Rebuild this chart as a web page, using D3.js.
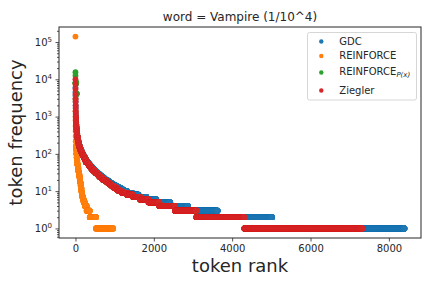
<!DOCTYPE html>
<html>
<head>
<meta charset="utf-8">
<script src="https://cdn.jsdelivr.net/npm/d3@7"></script>
<style>
  body { margin: 0; background: #fff; }
  text { font-family: "DejaVu Sans", sans-serif; fill: #262626; }
</style>
</head>
<body>
<div class="canvas"></div>
<script>

// data: rank-frequency runs, each level lasts up to lastRank (ranks start at 0)
const seriesNames = ['GDC', 'REINFORCE', 'REINFORCE_P(x)', 'Ziegler'];
const seriesColors = ['#1f77b4', '#ff7f0e', '#2ca02c', '#d62728'];

const gdcFreq = [6000, 4500, 3600, 3000, 2500, 2000, 1700, 1400, 1200, 1000, 900, 800, 700, 600, 530, 460, 400, 350, 300, 260, 230, 200, 170, 150, 130, 115, 100, 90, 80, 70, 60, 55, 50, 45, 40, 36, 33, 30, 28, 26, 24, 22, 20, 19, 18, 17, 16, 15, 14, 13, 12, 11, 10, 9, 8, 7, 6, 5, 4, 3, 2, 1];
const gdcLastRank = [0, 1, 2, 3, 4, 5, 6, 7, 8, 10, 12, 14, 17, 21, 25, 30, 36, 43, 52, 62, 72, 85, 102, 120, 143, 166, 193, 216, 244, 278, 321, 350, 383, 422, 466, 510, 548, 592, 624, 660, 702, 750, 806, 838, 872, 910, 950, 995, 1045, 1100, 1160, 1230, 1315, 1450, 1610, 1810, 2065, 2420, 2870, 3630, 5020, 8400];

const reinforceFreq = [140000, 3000, 1400, 1000, 800, 560, 405, 300, 218, 160, 130, 100, 80, 65, 52, 42, 34, 28, 24, 20, 17, 14, 12, 10, 9, 8, 7, 6, 5, 4, 3, 2, 1];
const reinforceLastRank = [0, 1, 2, 3, 4, 5, 6, 8, 10, 14, 22, 30, 38, 48, 62, 75, 88, 100, 110, 120, 132, 143, 152, 160, 166, 175, 190, 210, 240, 285, 365, 525, 960];

const reinforcePxFreq = [15500, 12500, 8000, 4100, 400, 350, 300, 260, 230, 200, 170, 150, 130, 115, 100, 90, 80, 70, 60, 55, 50, 45, 40, 36, 33, 30, 28, 26, 24, 22, 20, 19, 18, 17, 16, 15, 14, 13, 12, 11, 10, 9, 8, 7, 6, 5, 4, 3, 2, 1];
const reinforcePxLastRank = [0, 1, 20, 30, 37, 44, 52, 62, 72, 84, 100, 118, 140, 162, 188, 210, 236, 268, 308, 335, 368, 405, 445, 485, 520, 560, 590, 622, 660, 705, 755, 782, 812, 845, 880, 920, 960, 1005, 1055, 1110, 1185, 1320, 1470, 1650, 1865, 2140, 2540, 3085, 4310, 6800];

const zieglerFreq = [10000, 7500, 5500, 4000, 3000, 2500, 2000, 1700, 1400, 1200, 1000, 900, 800, 700, 600, 530, 460, 400, 350, 300, 260, 230, 200, 170, 150, 130, 115, 100, 90, 80, 70, 60, 55, 50, 45, 40, 36, 33, 30, 28, 26, 24, 22, 20, 19, 18, 17, 16, 15, 14, 13, 12, 11, 10, 9, 8, 7, 6, 5, 4, 3, 2, 1];
const zieglerLastRank = [0, 1, 2, 3, 4, 5, 6, 7, 8, 9, 11, 13, 15, 18, 22, 26, 31, 37, 44, 52, 62, 72, 84, 100, 118, 140, 162, 188, 210, 236, 268, 308, 335, 368, 405, 445, 485, 520, 560, 590, 622, 660, 705, 755, 782, 812, 845, 880, 920, 960, 1005, 1055, 1110, 1185, 1320, 1470, 1650, 1865, 2140, 2540, 3085, 4310, 7330];

const xTicks = [0, 2000, 4000, 6000, 8000];
const yTicks = [1, 10, 100, 1000, 10000, 100000];
const titleText = 'word = Vampire (1/10^4)';

// svg and dimensions
const width = 432, height = 288;
const margin = {top: 27, right: 11, bottom: 50, left: 59};
const graphWidth = width - margin.left - margin.right;
const graphHeight = height - margin.top - margin.bottom;

const svg = d3.select('.canvas')
  .append('svg')
  .attr('width', width)
  .attr('height', height);

const graph = svg.append('g')
  .attr('transform', `translate(${margin.left}, ${margin.top})`);

const x = d3.scaleLinear()
  .domain([-420, 8820])
  .range([0, graphWidth]);

const y = d3.scaleLog()
  .domain([Math.pow(10, -0.257), Math.pow(10, 5.403)])
  .range([graphHeight, 0]);

// expand the runs into one point per rank
const expand = (freqs, lastRanks) => {
  const pts = [];
  let start = 0;
  freqs.forEach((f, i) => {
    for (let r = start; r <= lastRanks[i]; r++) pts.push({rank: r, freq: f});
    start = lastRanks[i] + 1;
  });
  return pts;
};

const series = [
  expand(gdcFreq, gdcLastRank),
  expand(reinforceFreq, reinforceLastRank),
  expand(reinforcePxFreq, reinforcePxLastRank),
  expand(zieglerFreq, zieglerLastRank)
];

series.forEach((pts, i) => {
  graph.append('g')
    .selectAll('circle')
    .data(pts)
    .join('circle')
      .attr('cx', d => x(d.rank))
      .attr('cy', d => y(d.freq))
      .attr('r', 2.9)
      .attr('fill', seriesColors[i]);
});

// axes
const xAxisGroup = graph.append('g').attr('transform', `translate(0, ${graphHeight})`);
const yAxisGroup = graph.append('g');
const yMinorGroup = graph.append('g');

const xAxis = d3.axisBottom(x)
  .tickValues(xTicks)
  .tickSize(3.5)
  .tickPadding(3.5)
  .tickFormat(d3.format('d'));

const yAxis = d3.axisLeft(y)
  .tickValues(yTicks)
  .tickSize(3.5)
  .tickPadding(3.5)
  .tickFormat(() => '');

const minorTicks = [];
for (let e = -1; e <= 5; e++) {
  for (let m = 2; m <= 9; m++) {
    const v = m * Math.pow(10, e);
    if (v > y.domain()[0] && v < y.domain()[1]) minorTicks.push(v);
  }
}
const yMinor = d3.axisLeft(y)
  .tickValues(minorTicks)
  .tickSize(2)
  .tickFormat(() => '');

xAxisGroup.call(xAxis);
yAxisGroup.call(yAxis);
yMinorGroup.call(yMinor);

[xAxisGroup, yAxisGroup, yMinorGroup].forEach(g => {
  g.select('.domain').remove();
  g.selectAll('line').attr('stroke', '#262626').attr('stroke-width', 0.8);
  g.selectAll('text').attr('font-size', 10).attr('font-family', '"DejaVu Sans", sans-serif').attr('fill', '#262626');
});

// 10^n labels with superscripts
yAxisGroup.selectAll('.tick text')
  .each(function(d) {
    const t = d3.select(this);
    t.text('');
    t.append('tspan').text('10');
    t.append('tspan')
      .attr('font-size', 7)
      .attr('dy', '-0.55em')
      .text(Math.round(Math.log10(d)));
  });

// frame
graph.append('rect')
  .attr('width', graphWidth)
  .attr('height', graphHeight)
  .attr('fill', 'none')
  .attr('stroke', '#262626')
  .attr('stroke-width', 1);

// title and labels
svg.append('text')
  .attr('x', margin.left + graphWidth / 2)
  .attr('y', 21)
  .attr('text-anchor', 'middle')
  .attr('font-size', 12)
  .text(titleText);

svg.append('text')
  .attr('x', margin.left + graphWidth / 2)
  .attr('y', 272)
  .attr('text-anchor', 'middle')
  .attr('font-size', 18)
  .text('token rank');

svg.append('text')
  .attr('transform', `translate(22, ${margin.top + graphHeight / 2}) rotate(-90)`)
  .attr('text-anchor', 'middle')
  .attr('font-size', 18)
  .text('token frequency');

// legend
const legend = svg.append('g');
legend.append('rect')
  .attr('x', 307.5)
  .attr('y', 32.5)
  .attr('width', 109)
  .attr('height', 67.5)
  .attr('rx', 2)
  .attr('fill', '#fff')
  .attr('fill-opacity', 0.8)
  .attr('stroke', '#cccccc')
  .attr('stroke-width', 0.8);

const legendDotY = [41.5, 56, 72.5, 90.5];
const legendTextY = [45, 59, 75, 94.3];
seriesNames.forEach((name, i) => {
  legend.append('circle')
    .attr('cx', 321.3)
    .attr('cy', legendDotY[i])
    .attr('r', 2.2)
    .attr('fill', seriesColors[i]);
  const t = legend.append('text')
    .attr('x', 339.3)
    .attr('y', legendTextY[i])
    .attr('font-size', 10);
  if (name === 'REINFORCE_P(x)') {
    t.append('tspan').text('REINFORCE');
    t.append('tspan')
      .attr('font-size', 7)
      .attr('font-style', 'italic')
      .attr('dy', 2)
      .text('P(x)');
  } else {
    t.text(name);
  }
});

</script>
</body>
</html>
